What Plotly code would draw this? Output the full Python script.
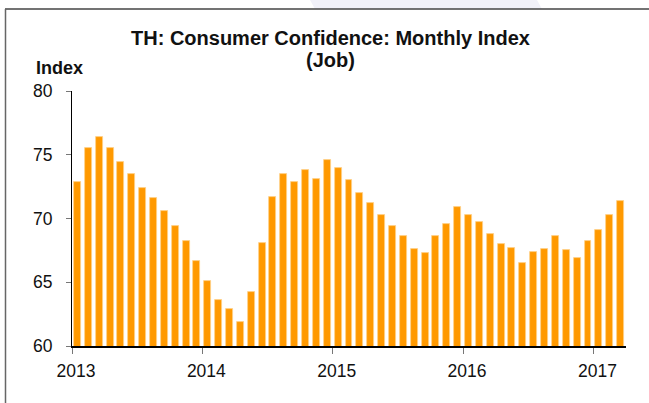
import plotly.graph_objects as go

# Monthly index, Jan 2013 .. Mar 2017
months = [f"{y}-{m:02d}" for y in range(2013, 2018) for m in range(1, 13)][:51]
values = [72.9, 75.5, 76.4, 75.5, 74.4, 73.5, 72.4, 71.6, 70.6, 69.4, 68.2, 66.7,
          65.1, 63.6, 62.9, 61.9, 64.2, 68.1, 71.7, 73.5, 72.9, 73.8, 73.1, 74.6,
          74.0, 73.0, 72.0, 71.2, 70.3, 69.4, 68.6, 67.6, 67.3, 68.6, 69.6, 70.9,
          70.3, 69.7, 68.8, 68.0, 67.7, 66.5, 67.4, 67.6, 68.6, 67.5, 66.9, 68.2,
          69.1, 70.3, 71.4]
year_labels = ["2013", "2014", "2015", "2016", "2017"]
y_ticks = [60, 65, 70, 75, 80]
title_lines = ["TH: Consumer Confidence: Monthly Index", "(Job)"]

x_idx = list(range(len(values)))
year_pos = [i * 12 - 0.5 for i in range(len(year_labels))]

W, H = 649, 403
L, R, T, B = 72, 23, 91, 57


def px_x(px):
    return (px - L) / (W - L - R)


def px_y(py):
    return (H - B - py) / (H - T - B)


fig = go.Figure()
fig.add_trace(go.Bar(
    x=x_idx, y=values, width=0.64,
    marker=dict(color="#FF9900", line=dict(color="#FFD08A", width=0.8)),
    showlegend=False, hoverinfo="skip",
))

shapes = [
    # faint watermark piece at the very top
    dict(type="path", xref="paper", yref="paper",
         path=f"M {px_x(310)} {px_y(0)} L {px_x(537)} {px_y(0)} L {px_x(542)} {px_y(9)} L {px_x(315)} {px_y(9)} Z",
         fillcolor="#F1F1F9", line=dict(width=0), layer="below"),
    # frame: top line and left line
    dict(type="line", xref="paper", yref="paper",
         x0=px_x(5), x1=px_x(649), y0=px_y(9), y1=px_y(9),
         line=dict(color="#444444", width=1.5)),
    dict(type="line", xref="paper", yref="paper",
         x0=px_x(5.5), x1=px_x(5.5), y0=px_y(9), y1=px_y(403),
         line=dict(color="#666666", width=1.5)),
]

fig.update_layout(
    width=W, height=H,
    margin=dict(l=L, r=R, t=T, b=B),
    paper_bgcolor="white", plot_bgcolor="white",
    font=dict(family="Liberation Sans, Arial, sans-serif", size=17.5, color="#111111"),
    bargap=0,
    xaxis=dict(
        range=[-0.5, len(values) - 0.5],
        tickmode="array", tickvals=year_pos, ticktext=year_labels,
        ticks="outside", ticklen=6, tickcolor="#777777", tickwidth=1,
        showline=True, linecolor="black", linewidth=1.5,
        showgrid=False, zeroline=False,
        ticklabelshift=4, ticklabelstandoff=2,
    ),
    yaxis=dict(
        range=[60, 80], tickmode="array", tickvals=y_ticks,
        ticks="outside", ticklen=5, tickcolor="#777777", tickwidth=1,
        showline=True, linecolor="black", linewidth=1,
        showgrid=False, zeroline=False, ticklabelstandoff=10,
    ),
    shapes=shapes,
)

for i, line in enumerate(title_lines):
    fig.add_annotation(
        text=f"<b>{line}</b>",
        xref="paper", yref="paper", x=px_x(330), y=px_y(25 + 22.5 * i),
        xanchor="center", yanchor="top", showarrow=False,
        font=dict(size=20, color="#111111"), align="center",
    )
fig.add_annotation(
    text="<b>Index</b>",
    xref="paper", yref="paper", x=px_x(34), y=px_y(68),
    xanchor="left", yanchor="middle", showarrow=False,
    font=dict(size=18, color="#111111"),
)

fig.write_html("out.html", config={"displayModeBar": False},
               post_script="document.body.style.margin='0px';")
